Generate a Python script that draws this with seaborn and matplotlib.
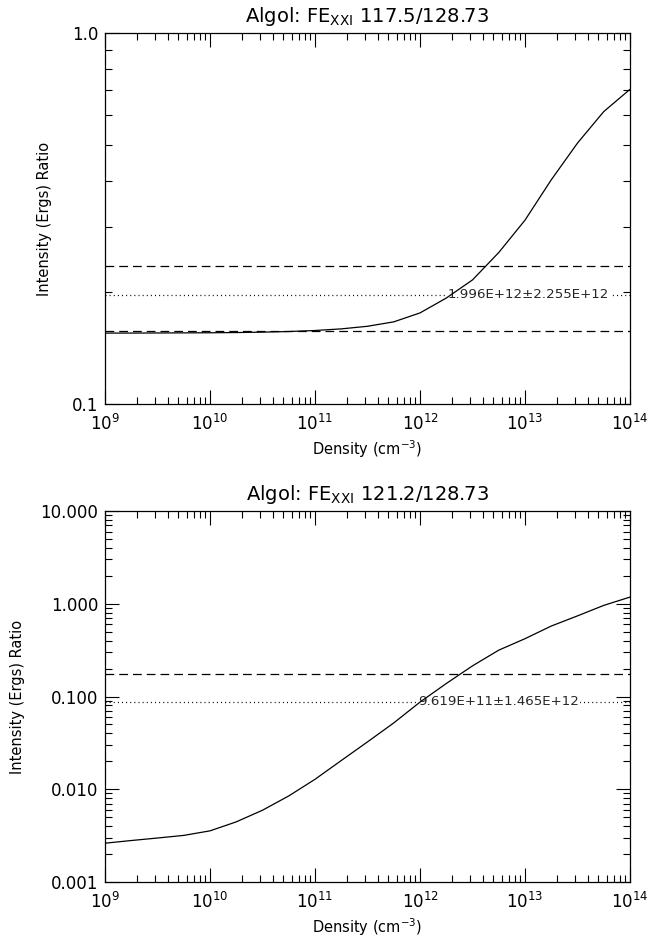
import numpy as np
import pandas as pd
import matplotlib
matplotlib.use("Agg")
import matplotlib.pyplot as plt
import matplotlib.ticker as mticker
import seaborn as sns

# ---- data ----
log_density = [9.0, 9.25, 9.5, 9.75, 10.0, 10.25, 10.5, 10.75, 11.0, 11.25,
               11.5, 11.75, 12.0, 12.25, 12.5, 12.75, 13.0, 13.25, 13.5, 13.75, 14.0]
ratio_1175 = [0.1553, 0.1553, 0.1554, 0.1555, 0.1556, 0.1558, 0.1562, 0.1568, 0.1578, 0.1594,
              0.1620, 0.1665, 0.1760, 0.1930, 0.2160, 0.2560, 0.3130, 0.4020, 0.5050, 0.6140, 0.7050]
ratio_1212 = [0.00262, 0.00280, 0.00298, 0.00318, 0.00356, 0.00445, 0.00594, 0.00847, 0.0128, 0.0204,
              0.0324, 0.0519, 0.0870, 0.1380, 0.2140, 0.3160, 0.4200, 0.5750, 0.7400, 0.9600, 1.1800]

obs_1175 = 0.197
obs_1175_hi = 0.235
obs_1175_lo = 0.157
dens_1175 = 1.996e12
label_1175 = "1.996E+12\u00b12.255E+12"

obs_1212 = 0.0875
obs_1212_hi = 0.175
dens_1212 = 9.619e11
label_1212 = "9.619E+11\u00b11.465E+12"

titles = ["Algol: FE$_{\\rm XXI}$ 117.5/128.73", "Algol: FE$_{\\rm XXI}$ 121.2/128.73"]
xlabel = "Density (cm$^{-3}$)"
ylabel = "Intensity (Ergs) Ratio"

density = [10 ** v for v in log_density]
df = pd.DataFrame({"density": density, "r1175": ratio_1175, "r1212": ratio_1212})

sns.set_theme(style="ticks")
plt.rcParams["font.family"] = ["DejaVu Sans"]
plt.rcParams["mathtext.default"] = "regular"
plt.rcParams["axes.linewidth"] = 0.9

fig = plt.figure(figsize=(6.52, 9.38), dpi=100)
ax1 = fig.add_axes([105 / 652, 1 - 404 / 938, 525 / 652, 371 / 938])
ax2 = fig.add_axes([105 / 652, 1 - 882 / 938, 525 / 652, 371 / 938])

dash = (0, (7, 4))
dot = (0, (0.8, 2.5))

def style(ax, title, ylab_x):
    ax.set_xscale("log")
    ax.set_yscale("log")
    ax.set_xlim(1e9, 1e14)
    ax.set_title(title, fontsize=14, color="black", pad=8)
    ax.set_xlabel(xlabel, fontsize=10.5, color="black", labelpad=3)
    ax.set_ylabel(ylabel, fontsize=10.5, color="black")
    ax.yaxis.set_label_coords(ylab_x, 0.5)
    ax.tick_params(which="both", direction="in", top=True, right=True,
                   colors="black", width=0.8)
    ax.tick_params(which="major", length=10, labelsize=12)
    ax.tick_params(axis="x", which="major", pad=7)
    ax.tick_params(axis="y", which="major", pad=5)
    ax.tick_params(which="minor", length=5)
    ax.xaxis.set_major_locator(mticker.LogLocator(base=10, numticks=10))
    ax.xaxis.set_minor_locator(mticker.LogLocator(base=10, subs=np.arange(2, 10), numticks=20))
    ax.xaxis.set_minor_formatter(mticker.NullFormatter())
    for s in ax.spines.values():
        s.set_color("black")
    ax.grid(False)

# Top panel
ax1.axhline(obs_1175_hi, color="black", lw=0.9, ls=dash, zorder=1)
ax1.axhline(obs_1175_lo, color="black", lw=0.9, ls=dash, zorder=1)
ax1.axhline(obs_1175, color="black", lw=0.9, ls=dot, zorder=1)
ax1.text(dens_1175 * 0.92, obs_1175, label_1175, fontsize=9.6, ha="left", va="center",
         zorder=2, bbox=dict(facecolor="white", edgecolor="none", pad=0.5))
sns.lineplot(data=df, x="density", y="r1175", ax=ax1, color="black", lw=0.9, zorder=3)
style(ax1, titles[0], -0.101)
ax1.set_ylim(0.1, 1.0)
ax1.yaxis.set_major_locator(mticker.FixedLocator([0.1, 1.0]))
ax1.yaxis.set_major_formatter(mticker.FuncFormatter(lambda v, p: f"{v:.1f}"))
ax1.yaxis.set_minor_locator(mticker.FixedLocator([0.2, 0.3, 0.4, 0.5, 0.6, 0.7, 0.8, 0.9]))
ax1.yaxis.set_minor_formatter(mticker.NullFormatter())

# Bottom panel
ax2.axhline(obs_1212_hi, color="black", lw=0.9, ls=dash, zorder=1)
ax2.axhline(obs_1212, color="black", lw=0.9, ls=dot, zorder=1)
ax2.text(dens_1212, obs_1212, label_1212, fontsize=9.6, ha="left", va="center",
         zorder=2, bbox=dict(facecolor="white", edgecolor="none", pad=0.5))
sns.lineplot(data=df, x="density", y="r1212", ax=ax2, color="black", lw=0.9, zorder=3)
style(ax2, titles[1], -0.152)
ax2.set_ylim(0.001, 10.0)
ax2.yaxis.set_major_locator(mticker.FixedLocator([0.001, 0.01, 0.1, 1.0, 10.0]))
ax2.yaxis.set_major_formatter(mticker.FuncFormatter(lambda v, p: f"{v:.3f}"))
ax2.yaxis.set_minor_locator(mticker.LogLocator(base=10, subs=np.arange(2, 10), numticks=20))
ax2.yaxis.set_minor_formatter(mticker.NullFormatter())

fig.savefig("out.png", dpi=100, facecolor="white")
